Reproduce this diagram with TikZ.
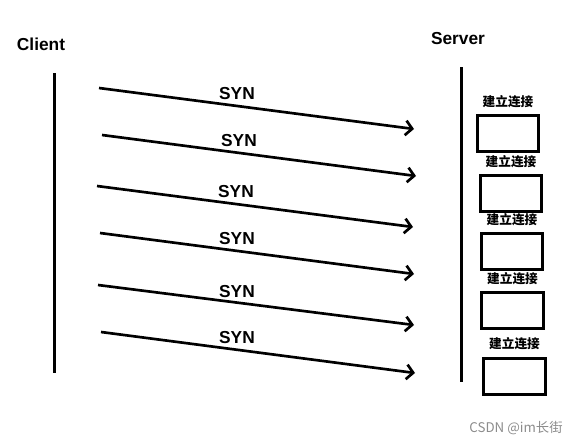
\documentclass[tikz,border=0pt]{standalone}
\usepackage{fontspec}
\setmainfont{Liberation Sans}
\newfontfamily\cjk{Noto Sans CJK SC}
\usepackage{tikz}
\usetikzlibrary{arrows.meta,positioning}

\begin{document}
\begin{tikzpicture}[
    x=0.75pt, y=-0.75pt,
    party/.style={font=\bfseries\fontsize{13}{15}\selectfont, inner sep=0pt},
    lifeline/.style={line width=2.25pt},
    msg/.style={line width=2pt, -{Straight Barb[length=5pt, width=11pt, line width=2pt]}},
    msglbl/.style={font=\bfseries\fontsize{13}{15}\selectfont, inner sep=0pt},
    conbox/.style={rectangle, draw, line width=2.25pt, minimum width=46pt, minimum height=27pt, inner sep=0pt},
    conlbl/.style={font=\cjk\bfseries\fontsize{9.5}{11}\selectfont, inner sep=0pt}
]
\useasboundingbox (0,0) rectangle (578,446);

% Parties
\node [party] (client) at (41,44) {Client};
\node [party] (server) at (458,39) {Server};

% Lifelines
\coordinate (ctop) at (54,73);
\coordinate (cbot) at (54,373);
\coordinate (stop) at (461,67);
\coordinate (sbot) at (461,382);
\draw [lifeline] (ctop) -- (cbot);
\draw [lifeline] (stop) -- (sbot);

% SYN messages
\coordinate (s1) at (99,88);   \coordinate (e1) at (414,129);
\coordinate (s2) at (102,135); \coordinate (e2) at (416,176);
\coordinate (s3) at (97,186);  \coordinate (e3) at (413,227);
\coordinate (s4) at (100,233); \coordinate (e4) at (414,274);
\coordinate (s5) at (98,285);  \coordinate (e5) at (414,325);
\coordinate (s6) at (101,332); \coordinate (e6) at (415,373);

\draw [msg] (s1) -- (e1);
\draw [msg] (s2) -- (e2);
\draw [msg] (s3) -- (e3);
\draw [msg] (s4) -- (e4);
\draw [msg] (s5) -- (e5);
\draw [msg] (s6) -- (e6);

\node [msglbl] (syn1) at (237,94) {SYN};
\node [msglbl] (syn2) at (239,141) {SYN};
\node [msglbl] (syn3) at (236,192) {SYN};
\node [msglbl] (syn4) at (237,239) {SYN};
\node [msglbl] (syn5) at (237,292) {SYN};
\node [msglbl] (syn6) at (237,338) {SYN};

% Connections on the server side
\node [conbox] (box1) at (508,133) {};
\node [conbox] (box2) at (511,193) {};
\node [conbox] (box3) at (512,251) {};
\node [conbox] (box4) at (512.5,310) {};
\node [conbox] (box5) at (514.5,376) {};

\node [conlbl, above=4pt of box1] (lbl1) {建立连接};
\node [conlbl, above=4pt of box2] (lbl2) {建立连接};
\node [conlbl, above=4pt of box3] (lbl3) {建立连接};
\node [conlbl, above=4pt of box4] (lbl4) {建立连接};
\node [conlbl, above=4.5pt of box5] (lbl5) {建立连接};

% Watermark
\node [font=\cjk\fontsize{10}{12}\selectfont, text=black!45, inner sep=0pt] (mark) at (516,428) {CSDN @im长街};

\end{tikzpicture}
\end{document}
